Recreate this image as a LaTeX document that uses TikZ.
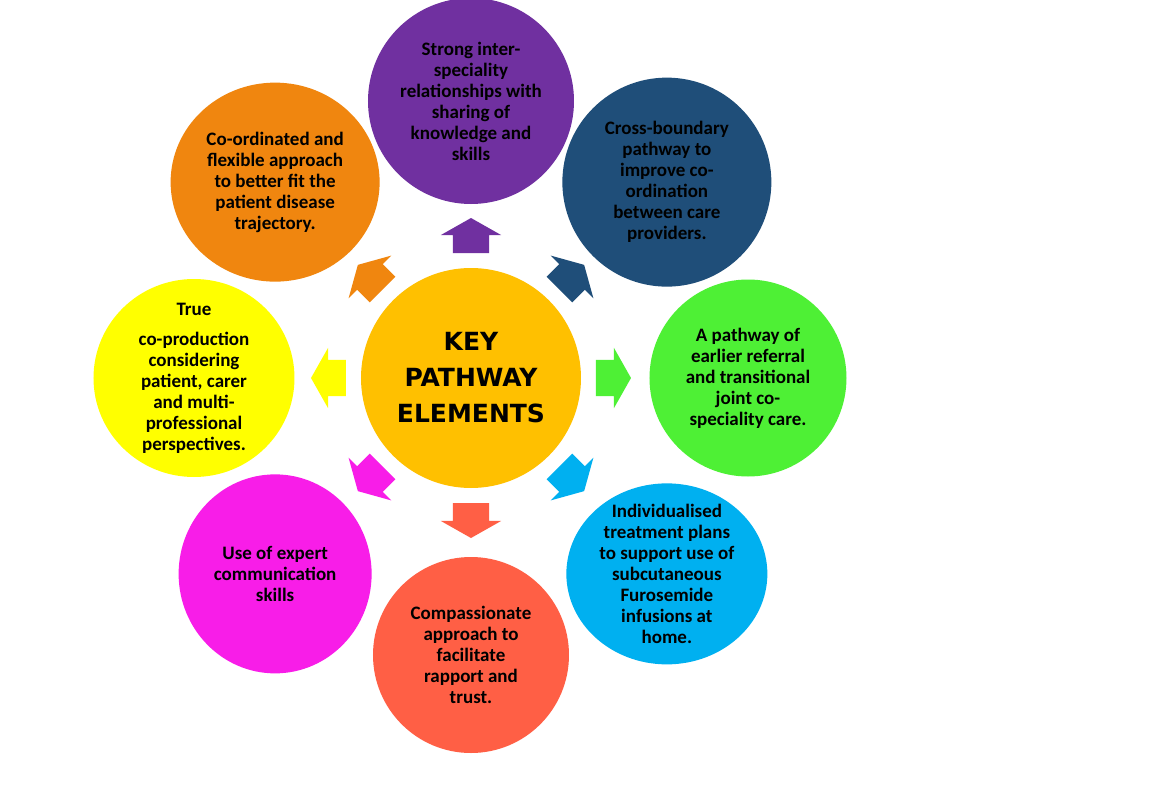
\documentclass[tikz,border=0pt]{standalone}
\usepackage{fontspec}
\usepackage{tikz}
\usetikzlibrary{positioning,shapes.geometric,shapes.arrows,calc}

\newfontfamily\bubblefont{Carlito}
\newfontfamily\keyfont{DejaVu Sans}

\definecolor{keygold}{HTML}{FFC000}
\definecolor{elviolet}{HTML}{7030A0}
\definecolor{elnavy}{HTML}{1F4E79}
\definecolor{elgreen}{HTML}{4EF035}
\definecolor{elcyan}{HTML}{00B0F0}
\definecolor{elcoral}{HTML}{FF5F45}
\definecolor{elmagenta}{HTML}{F81DE8}
\definecolor{elyellow}{HTML}{FFFF00}
\definecolor{elorange}{HTML}{F0860F}

\tikzset{
  keybox/.style={circle, fill=keygold, minimum size=220pt, inner sep=0pt, align=center,
    font=\keyfont\bfseries\fontsize{25}{36}\selectfont},
  bubble/.style={ellipse, inner sep=0pt, draw=none},
  bubbletext/.style={inner sep=0pt, align=center, text=black,
    font=\bubblefont\bfseries\fontsize{19}{21}\selectfont},
  blockarrow/.style={single arrow, anchor=tail, draw=none, outer sep=0pt,
    inner sep=0pt, inner ysep=18pt, minimum height=35pt, minimum width=60pt,
    single arrow head extend=12pt, single arrow tip angle=121}
}

\begin{document}
\begin{tikzpicture}[]

  \fill[white] (-471pt,-429pt) rectangle (681pt,378pt);
  \useasboundingbox (-471pt,-429pt) rectangle (681pt,378pt);

  \node[keybox] (k) at (0,0) {KEY\\PATHWAY\\ELEMENTS};

  \node[bubble, fill=elviolet, minimum width=206pt, minimum height=206pt] (e1) at (90:277pt) {};
  \node[bubble, fill=elnavy, minimum width=209pt, minimum height=209pt] (e2) at (45:277pt) {};
  \node[bubble, fill=elgreen, minimum width=197pt, minimum height=197pt] (e3) at (0:277pt) {};
  \node[bubble, fill=elcyan, minimum width=201pt, minimum height=181pt] (e4) at (-45:277pt) {};
  \node[bubble, fill=elcoral, minimum width=196pt, minimum height=196pt] (e5) at (-90:277pt) {};
  \node[bubble, fill=elmagenta, minimum width=193pt, minimum height=199pt] (e6) at (-135:277pt) {};
  \node[bubble, fill=elyellow, minimum width=201pt, minimum height=198pt] (e7) at (180:277pt) {};
  \node[bubble, fill=elorange, minimum width=209pt, minimum height=199pt] (e8) at (135:277pt) {};

  \node[bubbletext] (t1) at (e1) {Strong inter-\\speciality\\relationships with\\sharing of\\knowledge and\\skills};
  \node[bubbletext] (t2) at (e2) {Cross-boundary\\pathway to\\improve co-\\ordination\\between care\\providers.};
  \node[bubbletext] (t3) at (e3) {A pathway of\\earlier referral\\and transitional\\joint co-\\speciality care.};
  \node[bubbletext] (t4) at (e4) {Individualised\\treatment plans\\to support use of\\subcutaneous\\Furosemide\\infusions at\\home.};
  \node[bubbletext] (t5) at (e5) {Compassionate\\approach to\\facilitate\\rapport and\\trust.};
  \node[bubbletext] (t6) at (e6) {Use of expert\\communication\\skills};
  \node[bubbletext] (t7) at (e7) {True\\[9pt]co-production\\considering\\patient, carer\\and multi-\\professional\\perspectives.};
  \node[bubbletext] (t8) at (e8) {Co-ordinated and\\flexible approach\\to better fit the\\patient disease\\trajectory.};

  \node[blockarrow, fill=elviolet, rotate=90] (a1) at ($(k)!125pt!(e1)$) {};
  \node[blockarrow, fill=elnavy, rotate=45] (a2) at ($(k)!125pt!(e2)$) {};
  \node[blockarrow, fill=elgreen, rotate=0] (a3) at ($(k)!125pt!(e3)$) {};
  \node[blockarrow, fill=elcyan, rotate=-45] (a4) at ($(k)!125pt!(e4)$) {};
  \node[blockarrow, fill=elcoral, rotate=-90] (a5) at ($(k)!125pt!(e5)$) {};
  \node[blockarrow, fill=elmagenta, rotate=-135] (a6) at ($(k)!125pt!(e6)$) {};
  \node[blockarrow, fill=elyellow, rotate=180] (a7) at ($(k)!125pt!(e7)$) {};
  \node[blockarrow, fill=elorange, rotate=135] (a8) at ($(k)!125pt!(e8)$) {};

\end{tikzpicture}
\end{document}
